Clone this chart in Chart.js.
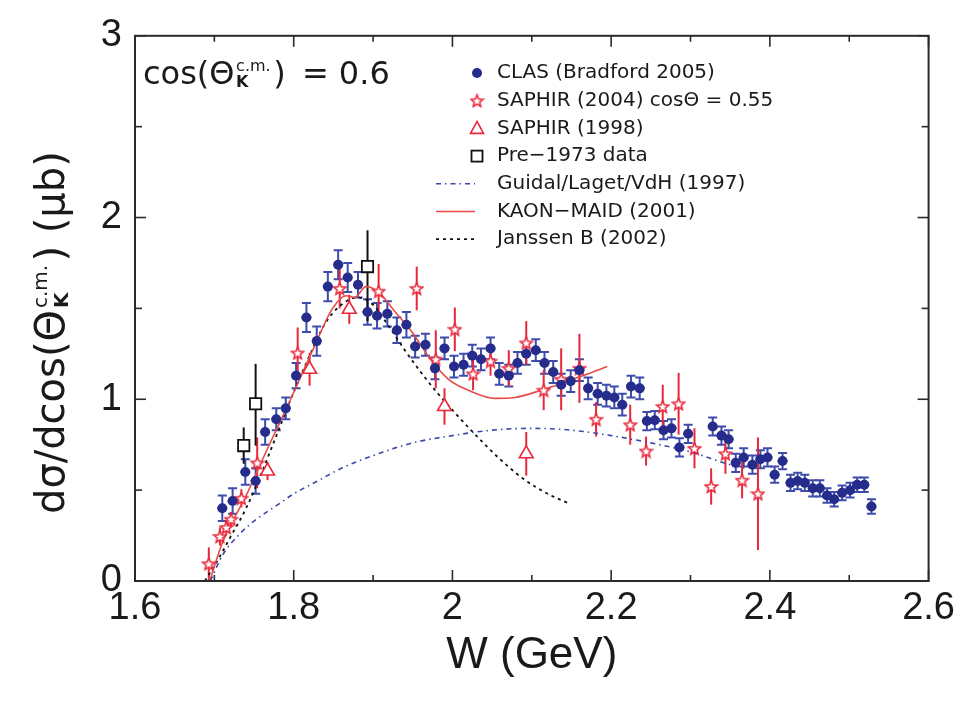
<!DOCTYPE html>
<html><head><meta charset="utf-8">
<script src="https://cdn.jsdelivr.net/npm/chart.js@4.4.1/dist/chart.umd.min.js"></script>
<style>html,body{margin:0;padding:0;background:#fff;}#wrap{width:960px;height:701px;position:relative;}</style>
</head><body><div id="wrap"><canvas id="c" width="960" height="701"></canvas></div>
<script>
// ---------- data ----------
const clasW = [1.710,1.723,1.739,1.752,1.764,1.778,1.790,1.803,1.816,1.829,1.843,1.856,1.868,1.881,1.893,1.905,1.918,1.930,1.942,1.953,1.966,1.978,1.990,2.002,2.014,2.025,2.036,2.048,2.059,2.071,2.082,2.093,2.105,2.116,2.127,2.137,2.149,2.160,2.171,2.183,2.194,2.204,2.214,2.225,2.236,2.245,2.255,2.266,2.276,2.286,2.297,2.328,2.339,2.348,2.357,2.367,2.378,2.388,2.397,2.406,2.416,2.426,2.435,2.444,2.454,2.463,2.472,2.481,2.491,2.501,2.510,2.519,2.528];
const clasXs = [0.40,0.44,0.60,0.55,0.82,0.89,0.95,1.13,1.45,1.32,1.62,1.74,1.67,1.63,1.48,1.46,1.47,1.38,1.41,1.29,1.30,1.17,1.28,1.18,1.19,1.24,1.22,1.28,1.14,1.13,1.20,1.25,1.27,1.20,1.15,1.08,1.10,1.16,1.06,1.03,1.02,1.01,0.97,1.07,1.06,0.88,0.885,0.83,0.84,0.735,0.81,0.85,0.80,0.78,0.65,0.68,0.64,0.67,0.68,0.585,0.66,0.54,0.55,0.54,0.51,0.51,0.47,0.45,0.485,0.50,0.53,0.53,0.41];
const clasErr = [0.07,0.07,0.07,0.07,0.07,0.06,0.06,0.07,0.08,0.08,0.08,0.08,0.08,0.07,0.07,0.07,0.07,0.07,0.07,0.06,0.06,0.06,0.06,0.06,0.06,0.06,0.06,0.06,0.06,0.06,0.06,0.06,0.06,0.06,0.06,0.06,0.06,0.06,0.06,0.06,0.06,0.06,0.06,0.06,0.06,0.05,0.05,0.05,0.05,0.05,0.05,0.05,0.05,0.05,0.05,0.05,0.05,0.05,0.05,0.045,0.045,0.045,0.045,0.045,0.045,0.045,0.04,0.04,0.04,0.04,0.04,0.04,0.04];

const saphir04W = [1.693,1.707,1.715,1.721,1.734,1.754,1.805,1.858,1.907,1.955,1.979,2.003,2.026,2.048,2.071,2.093,2.115,2.137,2.160,2.181,2.224,2.244,2.265,2.285,2.305,2.326,2.344,2.365,2.385];
const saphir04Xs = [0.095,0.245,0.295,0.34,0.455,0.65,1.255,1.61,1.595,1.61,1.22,1.385,1.14,1.21,1.17,1.31,1.05,1.11,1.17,0.89,0.86,0.715,0.96,0.975,0.73,0.52,0.70,0.555,0.48];
const saphir04Err = [0.09,0.05,0.04,0.04,0.05,0.14,0.14,0.11,0.15,0.12,0.16,0.12,0.09,0.08,0.10,0.12,0.11,0.17,0.19,0.095,0.11,0.08,0.12,0.17,0.11,0.10,0.11,0.10,0.31];

const saphir98W = [1.767,1.820,1.870,1.990,2.093];
const saphir98Xs = [0.605,1.165,1.495,0.96,0.70];
const saphir98Err = [0.05,0.09,0.08,0.10,0.12];

const pre73W = [1.737,1.752,1.893];
const pre73Xs = [0.745,0.975,1.73];
const pre73ErrLo = [0.10,0.23,0.30];
const pre73ErrHi = [0.10,0.22,0.20];

const guidalW = [1.695,1.71,1.73,1.75,1.78,1.80,1.83,1.86,1.90,1.95,2.00,2.05,2.10,2.15,2.20,2.25,2.30,2.35,2.37];
const guidalXs = [0.0,0.14,0.25,0.33,0.42,0.48,0.55,0.62,0.69,0.76,0.80,0.83,0.84,0.83,0.80,0.76,0.71,0.64,0.62];

const maidW = [1.694,1.711,1.740,1.765,1.794,1.824,1.849,1.866,1.877,1.891,1.907,1.928,1.949,1.974,1.995,2.020,2.054,2.079,2.112,2.142,2.171,2.195];
const maidXs = [0.0,0.22,0.47,0.71,0.98,1.27,1.50,1.57,1.56,1.62,1.59,1.48,1.37,1.21,1.11,1.05,1.005,1.01,1.05,1.095,1.14,1.18];

const janssenW = [1.688,1.705,1.72,1.74,1.76,1.78,1.80,1.82,1.84,1.86,1.88,1.90,1.92,1.94,1.96,1.98,2.00,2.03,2.06,2.09,2.12,2.145];
const janssenXs = [0.0,0.12,0.24,0.40,0.60,0.82,1.04,1.24,1.42,1.52,1.56,1.52,1.40,1.27,1.15,1.04,0.94,0.80,0.67,0.56,0.48,0.43];

const seriesLabels = ['CLAS (Bradford 2005)','SAPHIR (2004) cosΘ = 0.55','SAPHIR (1998)','Pre−1973 data','Guidal/Laget/VdH (1997)','KAON−MAID (2001)','Janssen B (2002)'];
const xTickStep = 0.2;
const yTickStep = 1;

// ---------- styles ----------
const BLUE = '#262c8c', BLUE_BAR = '#3d4bab', RED = '#e8283a', RED_LINE = '#ea4a4a', BLACK = '#111';
const pts = (xs, ys) => xs.map((v, i) => ({x: v, y: ys[i]}));

function makeStar(size, color){
  const c = document.createElement('canvas'); c.width = c.height = size;
  const g = c.getContext('2d');
  const cx = size/2, cy = size/2 + 0.6, R = size/2 - 1.2, r = R*0.45;
  g.beginPath();
  for (let i = 0; i < 10; i++){ const a = -Math.PI/2 + i*Math.PI/5; const rr = i%2 ? r : R; g.lineTo(cx + rr*Math.cos(a), cy + rr*Math.sin(a)); }
  g.closePath(); g.fillStyle = '#fff'; g.fill(); g.strokeStyle = color; g.lineWidth = 1.6; g.stroke();
  return c;
}
const starImg = makeStar(15, RED);

const datasets = [
  {label: seriesLabels[0], data: pts(clasW, clasXs), errLo: clasErr, errHi: clasErr, barColor: BLUE_BAR, caps: 4.5, hbar: 5,
   pointStyle: 'circle', pointRadius: 5, backgroundColor: BLUE, borderColor: BLUE, borderWidth: 0, showLine: false, mk: 'circle'},
  {label: seriesLabels[1], data: pts(saphir04W, saphir04Xs), errLo: saphir04Err, errHi: saphir04Err, barColor: RED, caps: 0,
   pointStyle: starImg, pointRadius: 7, showLine: false, borderColor: RED, backgroundColor: '#fff', mk: 'star'},
  {label: seriesLabels[2], data: pts(saphir98W, saphir98Xs), errLo: saphir98Err, errHi: saphir98Err, barColor: RED, caps: 0,
   pointStyle: 'triangle', pointRadius: 8, borderWidth: 1.6, borderColor: RED, backgroundColor: '#fff', showLine: false, mk: 'triangle'},
  {label: seriesLabels[3], data: pts(pre73W, pre73Xs), errLo: pre73ErrLo, errHi: pre73ErrHi, barColor: BLACK, caps: 0,
   pointStyle: 'rect', pointRadius: 8, borderWidth: 1.8, borderColor: BLACK, backgroundColor: '#fff', showLine: false, mk: 'rect'},
  {label: seriesLabels[4], data: pts(guidalW, guidalXs), showLine: true, pointRadius: 0, borderColor: '#3a48a8', borderWidth: 1.6,
   borderDash: [5,4,1.5,4], cubicInterpolationMode: 'monotone', fill: false, mk: 'line'},
  {label: seriesLabels[5], data: pts(maidW, maidXs), showLine: true, pointRadius: 0, borderColor: RED_LINE, borderWidth: 1.6,
   cubicInterpolationMode: 'monotone', fill: false, mk: 'line'},
  {label: seriesLabels[6], data: pts(janssenW, janssenXs), showLine: true, pointRadius: 0, borderColor: '#111', borderWidth: 1.8,
   borderDash: [3,4], cubicInterpolationMode: 'monotone', fill: false, mk: 'line'}
];

// ---------- plugins ----------
const errPlugin = {
  id: 'errbars',
  beforeDatasetsDraw(chart){
    const {ctx, scales: {x, y}} = chart;
    ctx.save();
    chart.data.datasets.forEach(ds => {
      if (!ds.errLo) return;
      ctx.strokeStyle = ds.barColor; ctx.lineWidth = 2;
      ds.data.forEach((p, j) => {
        const px = x.getPixelForValue(p.x), py = y.getPixelForValue(p.y);
        const lo = y.getPixelForValue(p.y - ds.errLo[j]), hi = y.getPixelForValue(p.y + ds.errHi[j]);
        ctx.beginPath(); ctx.moveTo(px, lo); ctx.lineTo(px, hi);
        if (ds.caps){ ctx.moveTo(px - ds.caps, lo); ctx.lineTo(px + ds.caps, lo); ctx.moveTo(px - ds.caps, hi); ctx.lineTo(px + ds.caps, hi); }
        if (ds.hbar){ ctx.moveTo(px - ds.hbar, py); ctx.lineTo(px + ds.hbar, py); }
        ctx.stroke();
      });
    });
    ctx.restore();
  }
};

const framePlugin = {
  id: 'frame',
  afterDatasetsDraw(chart){
    const {ctx, chartArea: a, scales: {x, y}} = chart;
    ctx.save();
    ctx.strokeStyle = '#2a2a2a';
    ctx.lineWidth = 1.6;
    const line = (x1, y1, x2, y2) => { ctx.beginPath(); ctx.moveTo(x1, y1); ctx.lineTo(x2, y2); ctx.stroke(); };
    const xt = x.ticks.map(t => t.value);
    for (let i = 0; i < xt.length; i++){
      const px = x.getPixelForValue(xt[i]);
      line(px, a.bottom, px, a.bottom - 11); line(px, a.top, px, a.top + 11);
      if (i < xt.length - 1){ const m = x.getPixelForValue((xt[i] + xt[i+1])/2); line(m, a.bottom, m, a.bottom - 6); line(m, a.top, m, a.top + 6); }
    }
    const yt = y.ticks.map(t => t.value);
    for (let i = 0; i < yt.length; i++){
      const py = y.getPixelForValue(yt[i]);
      line(a.left, py, a.left + 11, py); line(a.right, py, a.right - 11, py);
      if (i < yt.length - 1){ const m = y.getPixelForValue((yt[i] + yt[i+1])/2); line(a.left, m, a.left + 7, m); line(a.right, m, a.right - 7, m); }
    }
    ctx.lineWidth = 2;
    ctx.strokeRect(a.left, a.top, a.right - a.left, a.bottom - a.top);
    ctx.restore();
  }
};

function drawThetaKcm(ctx, x, baseline, big, small){
  ctx.font = big + 'px "DejaVu Sans"';
  ctx.fillText('Θ', x, baseline);
  x += ctx.measureText('Θ').width + big*0.05;
  ctx.font = small + 'px "DejaVu Sans"';
  ctx.fillText('c.m.', x, baseline - big*0.42);
  const w1 = ctx.measureText('c.m.').width;
  ctx.font = 'bold ' + small + 'px "DejaVu Sans"';
  ctx.fillText('K', x, baseline + big*0.1);
  return x + w1 + big*0.08;
}

const textPlugin = {
  id: 'texts',
  afterDraw(chart){
    const {ctx} = chart;
    ctx.save();
    ctx.fillStyle = '#1a1a1a';
    ctx.textBaseline = 'alphabetic';
    ctx.textAlign = 'left';
    // annotation
    let xx = 143, bl = 84;
    ctx.font = '32px "DejaVu Sans"';
    ctx.fillText('cos(', xx, bl); xx += ctx.measureText('cos(').width;
    xx = drawThetaKcm(ctx, xx, bl, 32, 16);
    ctx.font = '32px "DejaVu Sans"';
    ctx.fillText(')', xx, bl); xx += ctx.measureText(')').width;
    ctx.fillText(' = 0.6', xx + 6, bl);

    // y axis title (rotated)
    ctx.save();
    ctx.translate(64, 514);
    ctx.rotate(-Math.PI/2);
    let tx = 0;
    ctx.font = '40px "DejaVu Sans"';
    ctx.fillText('dσ/dcos(', tx, 0); tx += ctx.measureText('dσ/dcos(').width;
    tx = drawThetaKcm(ctx, tx, 0, 40, 20);
    ctx.font = '40px "DejaVu Sans"';
    ctx.fillText(') (μb)', tx, 0);
    ctx.restore();

    // legend
    const lx = 477, tx0 = 497, y0 = 73, dy = 27.7;
    chart.data.datasets.forEach((ds, i) => {
      const yy = y0 + i*dy;
      ctx.save();
      if (ds.mk === 'circle'){ ctx.fillStyle = BLUE; ctx.beginPath(); ctx.arc(lx, yy, 5, 0, Math.PI*2); ctx.fill(); }
      else if (ds.mk === 'star'){ ctx.drawImage(starImg, lx - 7.5, yy - 7.5); }
      else if (ds.mk === 'triangle'){ ctx.strokeStyle = RED; ctx.lineWidth = 1.6; ctx.beginPath(); ctx.moveTo(lx, yy - 7); ctx.lineTo(lx + 6.5, yy + 5); ctx.lineTo(lx - 6.5, yy + 5); ctx.closePath(); ctx.stroke(); }
      else if (ds.mk === 'rect'){ ctx.strokeStyle = BLACK; ctx.lineWidth = 1.8; ctx.strokeRect(lx - 5.5, yy - 5.5, 11, 11); }
      else { ctx.strokeStyle = ds.borderColor; ctx.lineWidth = ds.borderWidth; ctx.setLineDash(ds.borderDash || []); ctx.beginPath(); ctx.moveTo(436, yy); ctx.lineTo(475, yy); ctx.stroke(); }
      ctx.restore();
      ctx.fillStyle = '#1a1a1a';
      ctx.font = '20px "DejaVu Sans"';
      ctx.textBaseline = 'middle';
      ctx.fillText(ds.label, tx0, yy);
    });
    ctx.restore();
  }
};

new Chart(document.getElementById('c'), {
  type: 'scatter',
  data: {datasets},
  options: {
    responsive: false,
    animation: false,
    devicePixelRatio: 1,
    layout: {padding: {left: 0, right: 28, top: 26, bottom: 0}},
    plugins: {legend: {display: false}, tooltip: {enabled: false}, title: {display: false}},
    elements: {line: {tension: 0.4}},
    scales: {
      x: {
        type: 'linear', min: 1.6, max: 2.6,
        ticks: {stepSize: xTickStep, padding: 5, color: '#1a1a1a', font: {family: 'Liberation Sans', size: 38}, maxRotation: 0, autoSkip: false,
                callback: v => String(Math.round(v*10)/10)},
        grid: {display: false, drawTicks: false},
        border: {display: false},
        title: {display: true, text: 'W (GeV)', color: '#1a1a1a', font: {family: 'Liberation Sans', size: 44}, padding: {top: 0, bottom: 19}},
        afterFit: s => { s.height = 120; }
      },
      y: {
        type: 'linear', min: 0, max: 3,
        ticks: {stepSize: yTickStep, padding: 13, color: '#1a1a1a', font: {family: 'Liberation Sans', size: 38},
                callback: v => String(v)},
        grid: {display: false, drawTicks: false},
        border: {display: false},
        afterFit: s => { s.width = 135; }
      }
    }
  },
  plugins: [errPlugin, framePlugin, textPlugin]
});
</script>
</body></html>
